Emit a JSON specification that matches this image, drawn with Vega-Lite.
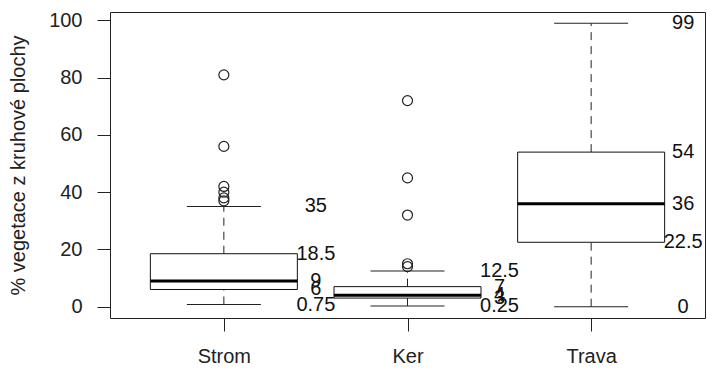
{
  "$schema": "https://vega.github.io/schema/vega-lite/v6.json",
  "width": 595,
  "height": 306,
  "autosize": {"type": "none"},
  "padding": {"left": 110, "top": 12, "right": 2, "bottom": 51},
  "background": "white",
  "config": {
    "view": {"stroke": "#222", "strokeWidth": 1},
    "font": "Liberation Sans",
    "axis": {
      "domain": false,
      "grid": false,
      "tickColor": "#222",
      "tickSize": 13,
      "tickWidth": 1,
      "labelFont": "Liberation Sans",
      "labelFontSize": 20,
      "labelColor": "#222",
      "titleFont": "Liberation Sans",
      "titleFontSize": 20,
      "titleFontWeight": "normal",
      "titleColor": "#222"
    },
    "axisY": {"labelPadding": 15, "titlePadding": 20, "labelAngle": 0},
    "axisX": {"labelPadding": 15, "labelAngle": 0}
  },
  "datasets": {
    "stats": [
      {"grp": "Strom", "lower": 0.75, "q1": 6, "median": 9, "q3": 18.5, "upper": 35},
      {"grp": "Ker", "lower": 0.25, "q1": 3, "median": 4, "q3": 7, "upper": 12.5},
      {"grp": "Trava", "lower": 0, "q1": 22.5, "median": 36, "q3": 54, "upper": 99}
    ],
    "outliers": [
      {"grp": "Strom", "value": 81},
      {"grp": "Strom", "value": 56},
      {"grp": "Strom", "value": 42},
      {"grp": "Strom", "value": 40},
      {"grp": "Strom", "value": 38},
      {"grp": "Strom", "value": 37},
      {"grp": "Ker", "value": 72},
      {"grp": "Ker", "value": 45},
      {"grp": "Ker", "value": 32},
      {"grp": "Ker", "value": 15},
      {"grp": "Ker", "value": 14}
    ]
  },
  "layer": [
    {
      "data": {"name": "stats"},
      "mark": {"type": "rule", "strokeDash": [8, 6], "color": "#222", "strokeWidth": 1},
      "encoding": {
        "x": {"field": "grp", "type": "nominal", "title": null, "sort": ["Strom", "Ker", "Trava"],
              "scale": {"type": "point", "domain": ["Strom", "Ker", "Trava"], "padding": 0.62}},
        "y": {"field": "lower", "type": "quantitative", "title": "% vegetace z kruhové plochy",
              "scale": {"domain": [-3.96, 102.96], "nice": false, "zero": false},
              "axis": {"values": [0, 20, 40, 60, 80, 100]}},
        "y2": {"field": "q1"}
      }
    },
    {
      "data": {"name": "stats"},
      "mark": {"type": "rule", "strokeDash": [8, 6], "color": "#222", "strokeWidth": 1},
      "encoding": {
        "x": {"field": "grp", "type": "nominal", "title": null, "sort": ["Strom", "Ker", "Trava"]},
        "y": {"field": "q3", "type": "quantitative", "title": "% vegetace z kruhové plochy",
              "axis": {"values": [0, 20, 40, 60, 80, 100]}},
        "y2": {"field": "upper"}
      }
    },
    {
      "data": {"name": "stats"},
      "mark": {"type": "tick", "orient": "horizontal", "size": 74, "thickness": 1, "color": "#222", "opacity": 1},
      "encoding": {
        "x": {"field": "grp", "type": "nominal", "title": null, "sort": ["Strom", "Ker", "Trava"]},
        "y": {"field": "lower", "type": "quantitative", "title": "% vegetace z kruhové plochy",
              "axis": {"values": [0, 20, 40, 60, 80, 100]}}
      }
    },
    {
      "data": {"name": "stats"},
      "mark": {"type": "tick", "orient": "horizontal", "size": 74, "thickness": 1, "color": "#222", "opacity": 1},
      "encoding": {
        "x": {"field": "grp", "type": "nominal", "title": null, "sort": ["Strom", "Ker", "Trava"]},
        "y": {"field": "upper", "type": "quantitative", "title": "% vegetace z kruhové plochy",
              "axis": {"values": [0, 20, 40, 60, 80, 100]}}
      }
    },
    {
      "data": {"name": "stats"},
      "mark": {"type": "bar", "size": 147, "fill": "white", "stroke": "#111", "strokeWidth": 1},
      "encoding": {
        "x": {"field": "grp", "type": "nominal", "title": null, "sort": ["Strom", "Ker", "Trava"]},
        "y": {"field": "q1", "type": "quantitative", "title": "% vegetace z kruhové plochy",
              "axis": {"values": [0, 20, 40, 60, 80, 100]}},
        "y2": {"field": "q3"}
      }
    },
    {
      "data": {"name": "stats"},
      "mark": {"type": "tick", "orient": "horizontal", "size": 147, "thickness": 3, "color": "#000", "opacity": 1},
      "encoding": {
        "x": {"field": "grp", "type": "nominal", "title": null, "sort": ["Strom", "Ker", "Trava"]},
        "y": {"field": "median", "type": "quantitative", "title": "% vegetace z kruhové plochy",
              "axis": {"values": [0, 20, 40, 60, 80, 100]}}
      }
    },
    {
      "data": {"name": "outliers"},
      "mark": {"type": "point", "shape": "circle", "filled": false, "size": 100, "stroke": "#222", "strokeWidth": 1.2, "opacity": 1},
      "encoding": {
        "x": {"field": "grp", "type": "nominal", "title": null, "sort": ["Strom", "Ker", "Trava"]},
        "y": {"field": "value", "type": "quantitative", "title": "% vegetace z kruhové plochy",
              "axis": {"values": [0, 20, 40, 60, 80, 100]}}
      }
    },
    {
      "data": {"name": "stats"},
      "transform": [{"fold": ["lower", "q1", "median", "q3", "upper"], "as": ["stat", "val"]}],
      "mark": {"type": "text", "dx": 92, "align": "center", "baseline": "middle", "fontSize": 20, "font": "Liberation Sans", "color": "#111"},
      "encoding": {
        "x": {"field": "grp", "type": "nominal", "title": null, "sort": ["Strom", "Ker", "Trava"]},
        "y": {"field": "val", "type": "quantitative", "title": "% vegetace z kruhové plochy",
              "axis": {"values": [0, 20, 40, 60, 80, 100]}},
        "text": {"field": "val", "type": "quantitative", "format": "~g"}
      }
    }
  ]
}
